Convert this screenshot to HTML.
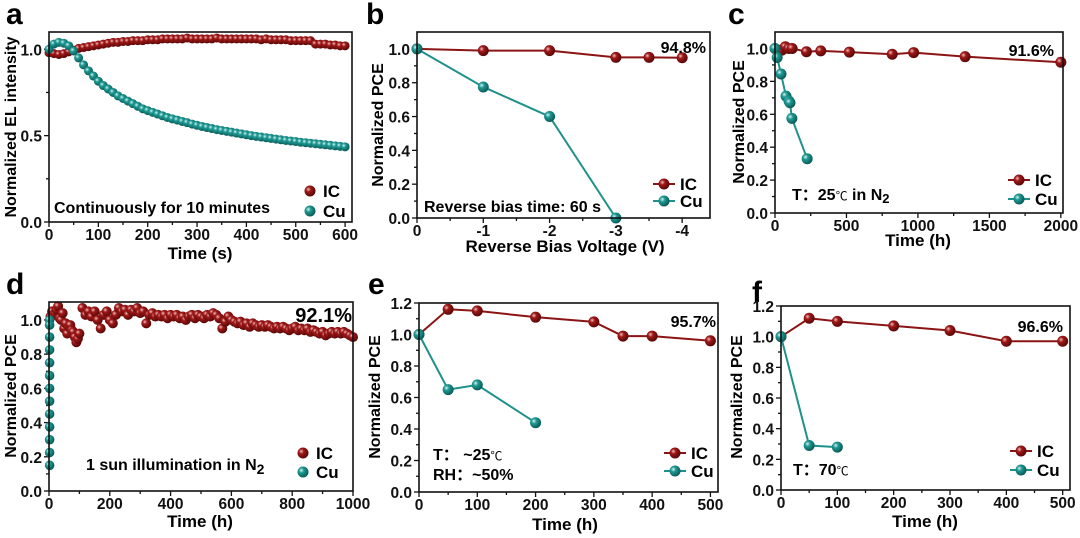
<!DOCTYPE html>
<html><head><meta charset="utf-8">
<style>
html,body{margin:0;padding:0;background:#fff;}
svg{display:block;font-family:"Liberation Sans",Arial,"Noto Sans CJK SC",sans-serif;font-weight:bold;}
</style></head>
<body>
<svg id="fig" width="1080" height="538" viewBox="0 0 1080 538" xmlns="http://www.w3.org/2000/svg">
<defs>
<radialGradient id="gIC" cx="35%" cy="35%" r="65%"><stop offset="0" stop-color="#f0c0c0"/><stop offset="0.35" stop-color="#a01818"/><stop offset="1" stop-color="#5a0808"/></radialGradient>
<radialGradient id="gCu" cx="35%" cy="35%" r="65%"><stop offset="0" stop-color="#d8f4f2"/><stop offset="0.35" stop-color="#1f9a94"/><stop offset="1" stop-color="#0b5c58"/></radialGradient>
</defs>
</svg>
<script>
// ---- Panel a data ----
const aTime=[0,10,20,30,40,50,60,70,80,90,100,110,120,130,140,150,160,170,180,190,200,210,220,230,240,250,260,270,280,290,300,310,320,330,340,350,360,370,380,390,400,410,420,430,440,450,460,470,480,490,500,510,520,530,540,550,560,570,580,590,600];
const aIC=[0.98,0.975,0.97,0.975,0.985,0.995,1.005,1.01,1.015,1.02,1.025,1.03,1.035,1.04,1.04,1.045,1.045,1.05,1.05,1.05,1.055,1.055,1.055,1.06,1.06,1.06,1.06,1.06,1.065,1.06,1.06,1.06,1.06,1.06,1.065,1.06,1.06,1.06,1.06,1.06,1.06,1.06,1.06,1.055,1.06,1.055,1.055,1.055,1.055,1.05,1.05,1.05,1.05,1.05,1.03,1.03,1.03,1.025,1.025,1.02,1.02];
const aCu=[1.0,1.03,1.04,1.035,1.02,0.99,0.95,0.91,0.875,0.845,0.815,0.79,0.77,0.75,0.73,0.715,0.7,0.685,0.67,0.655,0.645,0.635,0.625,0.615,0.605,0.597,0.59,0.582,0.575,0.567,0.56,0.553,0.547,0.541,0.535,0.53,0.525,0.52,0.515,0.51,0.505,0.5,0.496,0.492,0.488,0.484,0.48,0.476,0.472,0.469,0.466,0.462,0.459,0.456,0.453,0.45,0.447,0.444,0.441,0.438,0.435];
// ---- Panel b data ----
const bVoltIC=[0,-1,-2,-3,-3.5,-4];
const bIC=[1.0,0.99,0.99,0.95,0.95,0.948];
const bVoltCu=[0,-1,-2,-3];
const bCu=[1.0,0.775,0.6,0.0];
// ---- Panel c data ----
const cTimeIC=[0,24,48,72,96,120,220,320,520,820,970,1330,2000];
const cIC=[1.0,0.99,0.99,1.01,1.0,1.0,0.98,0.985,0.978,0.965,0.975,0.95,0.916];
const cTimeCu=[0,15,42,77,98,105,118,225];
const cCu=[1.0,0.945,0.845,0.71,0.68,0.67,0.575,0.33];
// ---- Panel d data ----
const dTimeIC=[5,10,15,20,25,30,35,40,45,50,55,60,65,70,75,80,85,90,95,100,110,120,130,140,150,160,170,180,190,200,210,220,230,240,250,260,270,280,290,300,310,320,330,340,350,360,370,380,390,400,410,420,430,440,450,460,470,480,490,500,510,520,530,540,550,560,570,580,590,600,610,620,630,640,650,660,670,680,690,700,710,720,730,740,750,760,770,780,790,800,810,820,830,840,850,860,870,880,890,900,910,920,930,940,950,960,970,980,990,1000];
const dIC=[1.02,1.05,1.03,1.04,1.06,1.08,1.01,1.0,1.04,0.95,0.98,0.92,0.96,0.97,0.94,0.93,0.9,0.87,0.89,0.92,1.07,1.03,1.05,1.02,1.05,1.0,0.95,1.03,1.05,1.0,0.98,1.03,1.07,1.05,1.06,1.03,1.06,1.05,1.07,1.04,1.05,0.98,1.03,1.04,1.02,1.03,1.02,1.03,1.01,1.03,1.02,1.03,1.01,1.02,1.0,1.02,1.03,1.01,1.03,1.02,1.01,1.03,1.02,1.04,1.03,1.01,0.95,0.99,1.02,1.0,0.99,0.98,0.99,0.97,0.98,0.96,0.98,0.97,0.96,0.97,0.96,0.97,0.96,0.95,0.96,0.95,0.96,0.95,0.94,0.95,0.96,0.94,0.95,0.94,0.95,0.93,0.94,0.93,0.92,0.93,0.91,0.92,0.93,0.92,0.93,0.92,0.93,0.92,0.91,0.9];
const dTimeCu=[2,2,2,2,2,2,2,2,2,2,2,2,2];
const dCu=[1.0,0.97,0.9,0.825,0.75,0.675,0.6,0.525,0.45,0.375,0.3,0.225,0.15];
// ---- Panel e data ----
const eTimeIC=[0,50,100,200,300,350,400,500];
const eIC=[1.0,1.16,1.15,1.11,1.08,0.99,0.99,0.96];
const eTimeCu=[0,50,100,200];
const eCu=[1.0,0.65,0.68,0.44];
// ---- Panel f data ----
const fTimeIC=[0,50,100,200,300,400,500];
const fIC=[1.0,1.12,1.10,1.07,1.04,0.97,0.97];
const fTimeCu=[0,50,100];
const fCu=[1.0,0.29,0.28];
// tick labels
const aXTicks=[0,100,200,300,400,500,600];
const aYTicks=[0,0.5,1.0];
const bXTicks=[0,-1,-2,-3,-4];
const pceYTicks=[0,0.2,0.4,0.6,0.8,1.0];
const cXTicks=[0,500,1000,1500,2000];
const dXTicks=[0,200,400,600,800,1000];
const efXTicks=[0,100,200,300,400,500];
const efYTicks=[0,0.2,0.4,0.6,0.8,1.0,1.2];

const NS='http://www.w3.org/2000/svg';
const svg=document.getElementById('fig');
function mk(tag,attrs,parent,txt){
  const e=document.createElementNS(NS,tag);
  for(const k in attrs)e.setAttribute(k,attrs[k]);
  if(txt!==undefined)e.textContent=txt;
  (parent||svg).appendChild(e);return e;
}
const RED='#8b1414', TEAL='#1f918b';
function panel(p){
  const g=mk('g',{});
  
  
  const X=v=>p.x0+(v-p.xmin)/(p.xmax-p.xmin)*(p.x1-p.x0);
  const Y=v=>p.y1-(v-p.ymin)/(p.ymax-p.ymin)*(p.y1-p.y0);
  p.X=X;p.Y=Y;
  const lt=mk('text',{x:p.lx,y:p.ly,'font-size':30},g,p.id);
  
  
  const ax=mk('g',{stroke:'#111','stroke-width':1.3},g);
  
  
  p.xt.forEach(v=>{
    mk('line',{x1:X(v),x2:X(v),y1:p.y1,y2:p.y1+5},ax);
    const t=mk('text',{x:X(v),y:p.y1+18,'font-size':15.5,'text-anchor':'middle',stroke:'none',fill:'#111'},g,String(v));
    
    
  });
  p.xm.forEach(v=>{mk('line',{x1:X(v),x2:X(v),y1:p.y1,y2:p.y1+3},ax);});
  const ay=mk('g',{stroke:'#111','stroke-width':1.3},g);
  
  
  p.yt.forEach(v=>{
    mk('line',{x1:p.x0-5,x2:p.x0,y1:Y(v),y2:Y(v)},ay);
    const t=mk('text',{x:p.x0-7,y:Y(v)+6,'font-size':15.5,'text-anchor':'end',stroke:'none',fill:'#111'},g,v.toFixed(1));
    
    
  });
  p.ym.forEach(v=>{mk('line',{x1:p.x0-3,x2:p.x0,y1:Y(v),y2:Y(v)},ay);});
  const xtl=mk('text',{x:p.xtx,y:p.xty,'font-size':17,'text-anchor':'middle'},g,p.xtitle);
  
  
  const ytl=mk('text',{x:0,y:0,'font-size':16,'text-anchor':'middle',transform:`translate(${p.ytx},${p.yty}) rotate(-90)`},g,p.ytitle);
  
  
  return g;
}
function frame(p,g){
  const r=mk('rect',{x:p.x0,y:p.y0,width:p.x1-p.x0,height:p.y1-p.y0,fill:'none',stroke:'#111','stroke-width':1.6},g);
  
  
}
function series(p,g,xs,ys,color,grad,line,r,name){
  const sg=mk('g',{},g);
  
  
  if(line){
    const pts=xs.map((x,i)=>p.X(x)+','+p.Y(ys[i])).join(' ');
    mk('polyline',{points:pts,fill:'none',stroke:color,'stroke-width':2},sg);
  }
  xs.forEach((x,i)=>{
    const c=mk('circle',{cx:p.X(x),cy:p.Y(ys[i]),r:r,fill:'url(#'+grad+')'},sg);
    
    
  });
}
function legend(g,x,y,withLine,label,color,grad){
  const lg=mk('g',{},g);
  
  
  if(withLine){mk('line',{x1:x-11,x2:x+11,y1:y,y2:y,stroke:color,'stroke-width':2},lg);}
  mk('circle',{cx:x,cy:y,r:5.5,fill:'url(#'+grad+')'},lg);
  mk('text',{x:x+(withLine?16:13),y:y+6,'font-size':17},lg,label);
}
function note(g,x,y,txt,size,anchor,name){
  const t=mk('text',{x:x,y:y,'font-size':size,'text-anchor':anchor||'start'},g);
  t.innerHTML=txt;
  
  
}
const rng=(a,b,s)=>{const r=[];for(let v=a;v<=b+1e-9;v+=s)r.push(+v.toFixed(3));return r;};

// a
let p={id:'a',x0:49,x1:352,y0:32,y1:222,xmin:0,xmax:614,ymin:0,ymax:1.1,lx:6,ly:24,
 xt:aXTicks,xm:rng(50,550,100),yt:aYTicks,ym:[0.25,0.75],xtitle:'Time (s)',xtx:200,xty:259,ytitle:'Normalized EL intensity',ytx:16,yty:127};
let g=panel(p);
series(p,g,aTime,aIC,RED,'gIC',false,4.5,'series-ic');
series(p,g,aTime,aCu,TEAL,'gCu',false,4.5,'series-cu');
frame(p,g);
note(g,54,213,'Continuously for 10 minutes',16,'start','annotation');
legend(g,310,191,false,'IC',RED,'gIC');legend(g,310,211,false,'Cu',TEAL,'gCu');
// b
p={id:'b',x0:417,x1:710,y0:32,y1:218,xmin:0,xmax:-4.42,ymin:0,ymax:1.1,lx:366,ly:24,
 xt:bXTicks,xm:[-0.5,-1.5,-2.5,-3.5],yt:pceYTicks,ym:rng(0.1,1.0,0.2),xtitle:'Reverse Bias Voltage (V)',xtx:565,xty:252,ytitle:'Normalized PCE',ytx:383,yty:125};
g=panel(p);
series(p,g,bVoltIC,bIC,RED,'gIC',true,5.5,'series-ic');
series(p,g,bVoltCu,bCu,TEAL,'gCu',true,5.5,'series-cu');
frame(p,g);
note(g,706,53,'94.8%',16,'end','value-label');
note(g,424,212,'Reverse bias time: 60 s',16,'start','annotation');
legend(g,664,184,true,'IC',RED,'gIC');legend(g,664,201,true,'Cu',TEAL,'gCu');
// c
p={id:'c',x0:775,x1:1063,y0:32,y1:213,xmin:0,xmax:2015,ymin:0,ymax:1.1,lx:728,ly:24,
 xt:cXTicks,xm:rng(250,1750,500),yt:pceYTicks,ym:rng(0.1,1.0,0.2),xtitle:'Time (h)',xtx:918,xty:246,ytitle:'Normalized PCE',ytx:744,yty:122};
g=panel(p);
series(p,g,cTimeIC,cIC,RED,'gIC',true,5.5,'series-ic');
series(p,g,cTimeCu,cCu,TEAL,'gCu',true,5.5,'series-cu');
frame(p,g);
note(g,1054,56,'91.6%',16,'end','value-label');
note(g,792,200,'T：25<tspan font-size="12" font-weight="normal">℃</tspan>  in N<tspan font-size="13" dy="3">2</tspan>',16,'start','annotation');
legend(g,1019,180,true,'IC',RED,'gIC');legend(g,1019,199,true,'Cu',TEAL,'gCu');
// d
p={id:'d',x0:49,x1:353,y0:302,y1:491,xmin:0,xmax:1000,ymin:0,ymax:1.105,lx:6,ly:294,
 xt:dXTicks,xm:rng(100,900,200),yt:pceYTicks,ym:rng(0.1,1.0,0.2),xtitle:'Time (h)',xtx:200,xty:527,ytitle:'Normalized PCE',ytx:16,yty:396};
g=panel(p);
series(p,g,dTimeIC,dIC,RED,'gIC',false,5,'series-ic');
series(p,g,dTimeCu,dCu,TEAL,'gCu',false,4.8,'series-cu');
frame(p,g);
note(g,352,322,'92.1%',20,'end','value-label');
note(g,86,470,'1 sun illumination in N<tspan font-size="14" dy="4">2</tspan>',16,'start','annotation');
legend(g,303,453,false,'IC',RED,'gIC');legend(g,303,472,false,'Cu',TEAL,'gCu');
// e
p={id:'e',x0:419,x1:718,y0:303,y1:492,xmin:0,xmax:513,ymin:0,ymax:1.2,lx:368,ly:294,
 xt:efXTicks,xm:rng(50,450,100),yt:efYTicks,ym:rng(0.1,1.1,0.2),xtitle:'Time (h)',xtx:565,xty:530,ytitle:'Normalized PCE',ytx:380,yty:397};
g=panel(p);
series(p,g,eTimeIC,eIC,RED,'gIC',true,5.5,'series-ic');
series(p,g,eTimeCu,eCu,TEAL,'gCu',true,5.5,'series-cu');
frame(p,g);
note(g,716,327,'95.7%',16,'end','value-label');
note(g,433,460,'T：    ~25<tspan font-size="12" font-weight="normal">℃</tspan>',16,'start','annotation');
note(g,433,480,'RH：~50%',16,'start','annotation');
legend(g,675,453,true,'IC',RED,'gIC');legend(g,675,471,true,'Cu',TEAL,'gCu');
// f
p={id:'f',x0:781,x1:1070,y0:306,y1:490,xmin:0,xmax:513,ymin:0,ymax:1.2,lx:752,ly:302,
 xt:efXTicks,xm:rng(50,450,100),yt:efYTicks,ym:rng(0.1,1.1,0.2),xtitle:'Time (h)',xtx:925,xty:527,ytitle:'Normalized PCE',ytx:742,yty:397};
g=panel(p);
series(p,g,fTimeIC,fIC,RED,'gIC',true,5.5,'series-ic');
series(p,g,fTimeCu,fCu,TEAL,'gCu',true,5.5,'series-cu');
frame(p,g);
note(g,1063,332,'96.6%',16,'end','value-label');
note(g,793,475,'T：70<tspan font-size="12" font-weight="normal">℃</tspan>',16,'start','annotation');
legend(g,1021,451,true,'IC',RED,'gIC');legend(g,1021,470,true,'Cu',TEAL,'gCu');
</script>
</body></html>
